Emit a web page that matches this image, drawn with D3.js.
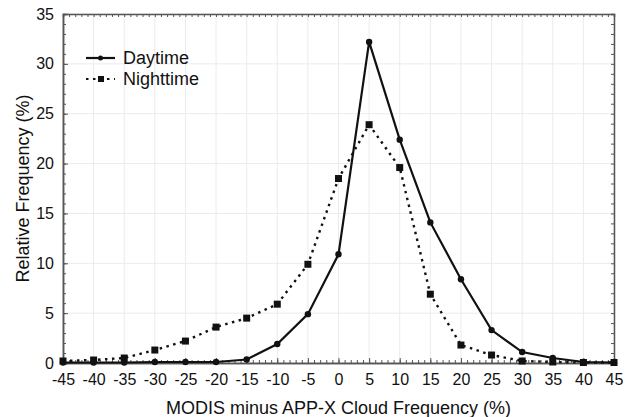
<!DOCTYPE html>
<html>
<head>
<meta charset="utf-8">
<script src="https://cdn.jsdelivr.net/npm/d3@7"></script>
<style>
  body { margin: 0; background: #fff; }
  svg { font-family: "Liberation Sans", Arial, sans-serif; }
</style>
</head>
<body>
<div id="chart"></div>
<script>
// 数据
const xValues = [-45, -40, -35, -30, -25, -20, -15, -10, -5, 0, 5, 10, 15, 20, 25, 30, 35, 40, 45];
const daytime = [0.05, 0.05, 0.05, 0.1, 0.1, 0.1, 0.35, 1.9, 4.9, 10.9, 32.2, 22.4, 14.1, 8.4, 3.3, 1.1, 0.5, 0.1, 0.05];
const nighttime = [0.2, 0.3, 0.5, 1.3, 2.2, 3.6, 4.5, 5.9, 9.9, 18.5, 23.9, 19.6, 6.9, 1.8, 0.8, 0.2, 0.1, 0.05, 0.05];
const xTicks = d3.range(-45, 46, 5);
const yTicks = d3.range(0, 36, 5);

const W = 632, H = 417;
const margin = { left: 63, right: 18, top: 14, bottom: 54 };

const svg = d3.select("#chart").append("svg")
    .attr("width", W)
    .attr("height", H);

const x = d3.scaleLinear().domain([-45, 45]).range([margin.left, W - margin.right]);
const y = d3.scaleLinear().domain([0, 35]).range([H - margin.bottom, margin.top]);

// 网格
const grid = svg.append("g");
grid.selectAll("line.vx").data(xTicks).enter().append("line")
    .attr("x1", d => x(d)).attr("x2", d => x(d))
    .attr("y1", y(0)).attr("y2", y(35))
    .attr("stroke", "#ebebeb").attr("stroke-width", 1);
grid.selectAll("line.hy").data(yTicks).enter().append("line")
    .attr("y1", d => y(d)).attr("y2", d => y(d))
    .attr("x1", x(-45)).attr("x2", x(45))
    .attr("stroke", "#ebebeb").attr("stroke-width", 1);

// 坐标轴 (刻度朝内)
const xMinor = d3.range(-45, 46, 1);
const yMinor = d3.range(0, 36, 1);
const axisColor = "#555";

const axBottom = svg.append("g").attr("transform", `translate(0,${y(0)})`)
    .call(d3.axisBottom(x).tickValues(xMinor).tickSize(-3).tickFormat(""));
const axBottomMajor = svg.append("g").attr("transform", `translate(0,${y(0)})`)
    .call(d3.axisBottom(x).tickValues(xTicks).tickSize(-5).tickPadding(11).tickFormat(d3.format("d")));
const axTop = svg.append("g").attr("transform", `translate(0,${y(35)})`)
    .call(d3.axisTop(x).tickValues(xMinor).tickSize(-3).tickFormat(""));
const axLeft = svg.append("g").attr("transform", `translate(${x(-45)},0)`)
    .call(d3.axisLeft(y).tickValues(yMinor).tickSize(-3).tickFormat(""));
const axLeftMajor = svg.append("g").attr("transform", `translate(${x(-45)},0)`)
    .call(d3.axisLeft(y).tickValues(yTicks).tickSize(-5).tickPadding(9).tickFormat(d3.format("d")));
const axRight = svg.append("g").attr("transform", `translate(${x(45)},0)`)
    .call(d3.axisRight(y).tickValues(yMinor).tickSize(-3).tickFormat(""));

[axBottom, axBottomMajor, axTop, axLeft, axLeftMajor, axRight].forEach(g => {
    g.select(".domain").attr("stroke", axisColor).attr("stroke-width", 1.5);
    g.selectAll(".tick line").attr("stroke", axisColor);
    g.selectAll("text").attr("fill", "#111").style("font-size", "16px");
});
// 负号用连字符
axBottomMajor.selectAll("text").text(d => String(d));

// 轴标题
svg.append("text")
    .attr("x", (x(-45) + x(45)) / 2)
    .attr("y", 414)
    .attr("text-anchor", "middle")
    .style("font-size", "18px")
    .attr("fill", "#111")
    .text("MODIS minus APP-X Cloud Frequency (%)");
svg.append("text")
    .attr("transform", `translate(29,${(y(0) + y(35)) / 2}) rotate(-90)`)
    .attr("text-anchor", "middle")
    .style("font-size", "18px")
    .attr("fill", "#111")
    .text("Relative Frequency (%)");

// 折线
const line = d3.line().x((d, i) => x(xValues[i])).y(d => y(d));

svg.append("path").datum(nighttime)
    .attr("d", line)
    .attr("fill", "none")
    .attr("stroke", "#111")
    .attr("stroke-width", 2.4)
    .attr("stroke-dasharray", "2.5,4.5");
svg.append("path").datum(daytime)
    .attr("d", line)
    .attr("fill", "none")
    .attr("stroke", "#111")
    .attr("stroke-width", 2.2);

svg.selectAll("rect.night").data(nighttime).enter().append("rect")
    .attr("class", "night")
    .attr("x", (d, i) => x(xValues[i]) - 3.5)
    .attr("y", d => y(d) - 3.5)
    .attr("width", 7).attr("height", 7)
    .attr("fill", "#111");
svg.selectAll("circle.day").data(daytime).enter().append("circle")
    .attr("class", "day")
    .attr("cx", (d, i) => x(xValues[i]))
    .attr("cy", d => y(d))
    .attr("r", 3.2)
    .attr("fill", "#111");

// 图例
const legend = svg.append("g").attr("transform", "translate(86,58)");
const items = [
    { name: "Daytime", dash: null, shape: "circle" },
    { name: "Nighttime", dash: "2.5,4.5", shape: "rect" }
];
items.forEach((it, i) => {
    const g = legend.append("g").attr("transform", `translate(0,${i * 21})`);
    g.append("line").attr("x1", 0).attr("x2", 29).attr("y1", 0).attr("y2", 0)
        .attr("stroke", "#111").attr("stroke-width", 2.2)
        .attr("stroke-dasharray", it.dash);
    if (it.shape === "circle") {
        g.append("circle").attr("cx", 14.5).attr("cy", 0).attr("r", 2.5).attr("fill", "#111");
    } else {
        g.append("rect").attr("x", 12).attr("y", -3).attr("width", 6).attr("height", 6).attr("fill", "#111");
    }
    g.append("text").attr("x", 37).attr("y", 0).attr("dy", "0.35em")
        .style("font-size", "18px").attr("fill", "#111").text(it.name);
});
</script>
</body>
</html>
